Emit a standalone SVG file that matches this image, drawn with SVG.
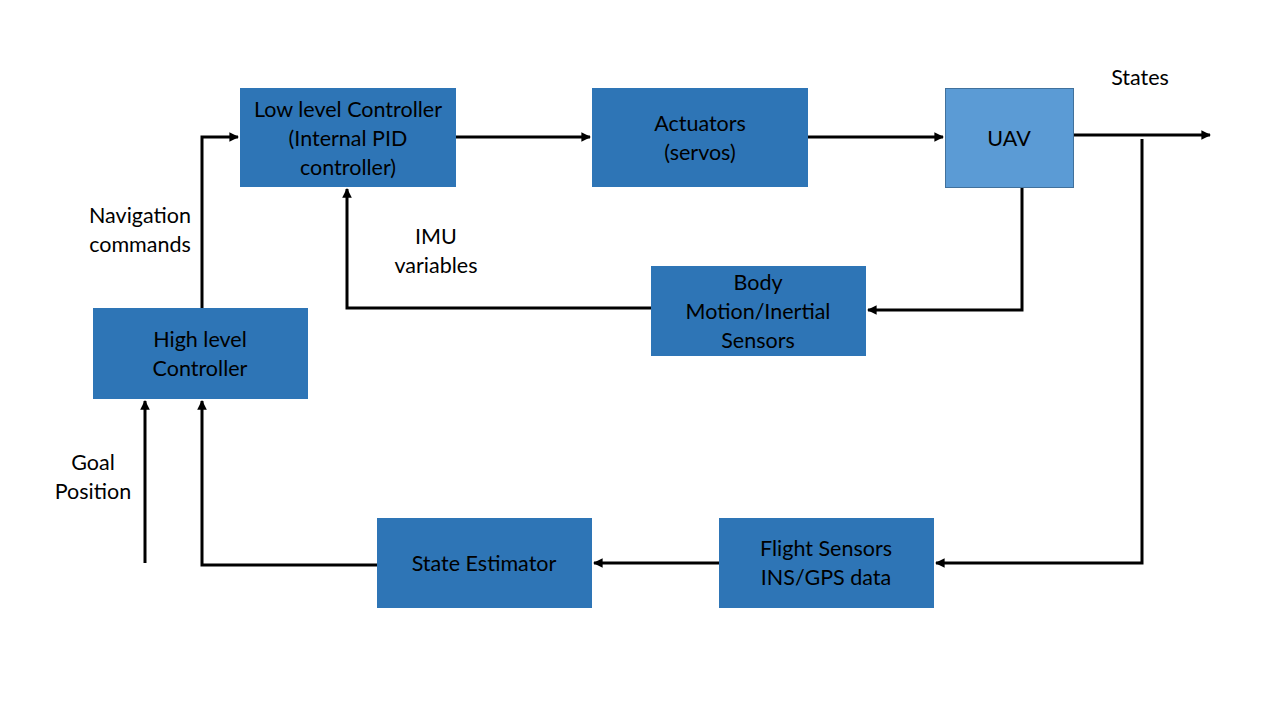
<svg xmlns="http://www.w3.org/2000/svg" width="1280" height="720" viewBox="0 0 1280 720">
<defs>
<style>
.box{fill:#2E75B6;}
.uav{fill:#5B9BD5;stroke:#41719C;stroke-width:1;}
text{font-family:Lato,"Open Sans","Liberation Sans",sans-serif;font-size:21.5px;fill:#000;text-anchor:middle;}
.c{fill:none;stroke:#000;stroke-width:3;}
</style>
<marker id="ah" viewBox="0 0 10 10" refX="9" refY="5" markerWidth="3.2" markerHeight="3.2" orient="auto" markerUnits="strokeWidth">
<path d="M0,0 L10,5 L0,10 Z" fill="#000"/>
</marker>
</defs>
<rect width="1280" height="720" fill="#fff"/>
<g id="connectors">
<path class="c" d="M456,137 H590" marker-end="url(#ah)"/>
<path class="c" d="M808,137 H943" marker-end="url(#ah)"/>
<path class="c" d="M1073,135 H1210" marker-end="url(#ah)"/>
<path class="c" d="M1142,139 V563 H936" marker-end="url(#ah)"/>
<path class="c" d="M1022,187 V310 H868" marker-end="url(#ah)"/>
<path class="c" d="M651,308 H347 V189" marker-end="url(#ah)"/>
<path class="c" d="M719,563 H594" marker-end="url(#ah)"/>
<path class="c" d="M377,565 H202 V401" marker-end="url(#ah)"/>
<path class="c" d="M145,563 V401" marker-end="url(#ah)"/>
<path class="c" d="M202,308 V137 H238" marker-end="url(#ah)"/>
</g>
<g id="low-level-controller">
<rect class="box" x="240" y="88" width="216" height="99"/>
<text x="348" y="117">Low level Controller</text>
<text x="348" y="146">(Internal PID</text>
<text x="348" y="175">controller)</text>
</g>
<g id="actuators">
<rect class="box" x="592" y="88" width="216" height="99"/>
<text x="700" y="131">Actuators</text>
<text x="700" y="160">(servos)</text>
</g>
<g id="uav">
<rect class="uav" x="945.5" y="88.5" width="128" height="99"/>
<text x="1009" y="146">UAV</text>
</g>
<g id="body-motion-sensors">
<rect class="box" x="651" y="266" width="215" height="90"/>
<text x="758" y="290">Body</text>
<text x="758" y="319">Motion/Inertial</text>
<text x="758" y="348">Sensors</text>
</g>
<g id="high-level-controller">
<rect class="box" x="93" y="308" width="215" height="91"/>
<text x="200" y="347">High level</text>
<text x="200" y="376">Controller</text>
</g>
<g id="state-estimator">
<rect class="box" x="377" y="518" width="215" height="90"/>
<text x="484" y="571">State Estimator</text>
</g>
<g id="flight-sensors">
<rect class="box" x="719" y="518" width="215" height="90"/>
<text x="826" y="556">Flight Sensors</text>
<text x="826" y="585">INS/GPS data</text>
</g>
<g id="labels">
<text x="1140" y="85">States</text>
<text x="140" y="223">Navigation</text>
<text x="140" y="252">commands</text>
<text x="436" y="244">IMU</text>
<text x="436" y="273">variables</text>
<text x="93" y="470">Goal</text>
<text x="93" y="499">Position</text>
</g>
</svg>
